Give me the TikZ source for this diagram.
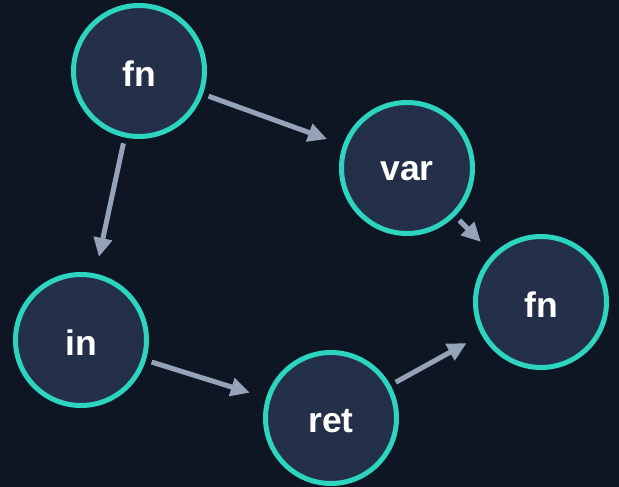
\documentclass[tikz,border=0pt]{standalone}
\usepackage{fontspec}
\setmainfont{Liberation Sans}
\usetikzlibrary{arrows.meta}
\definecolor{bg}{HTML}{0E1624}
\definecolor{nodefill}{HTML}{243049}
\definecolor{teal}{HTML}{2DD4BF}
\definecolor{edge}{HTML}{94A3B8}
\newcommand{\lowtxt}[1]{\raisebox{-3pt}[\height][\depth]{#1}}
\tikzset{
  gnode/.style={circle, draw=teal, line width=5pt, fill=nodefill, minimum size=131pt, inner sep=0pt,
    text=white, font=\fontsize{35.5}{40}\selectfont\bfseries},
  gedge/.style={draw=edge, line width=5pt, -{Triangle[length=19pt,width=18pt]}, shorten <=6pt, shorten >=17pt}
}
\begin{document}
\begin{tikzpicture}[x=1pt,y=-1pt]
\fill[bg] (0,0) rectangle (619,487);
\useasboundingbox (0,0) rectangle (619,487);
\node[gnode] (fn1) at (139,71) {\lowtxt{fn}};
\node[gnode] (var) at (407,168) {\lowtxt{var}};
\node[gnode] (fn2) at (541,302) {\lowtxt{fn}};
\node[gnode] (in) at (81,340) {\lowtxt{in}};
\node[gnode] (ret) at (331,418) {\lowtxt{ret}};
\draw[gedge] (fn1) -- (var);
\draw[gedge] (fn1) -- (in);
\draw[gedge] (var) -- (fn2);
\draw[gedge] (in) -- (ret);
\draw[gedge] (ret) -- (fn2);
\end{tikzpicture}
\end{document}
